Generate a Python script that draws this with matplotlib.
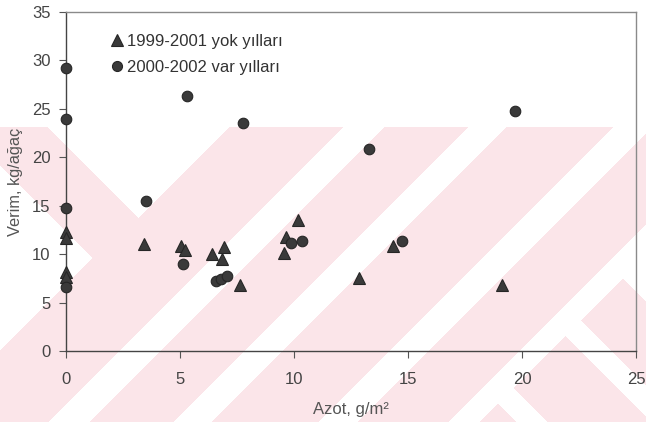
import numpy as np
import matplotlib
matplotlib.use("Agg")
import matplotlib.pyplot as plt

plt.rcParams['font.family'] = ['Liberation Sans', 'DejaVu Sans']

# ---- data ----
tri_label = "1999-2001 yok yılları"
tri_x = [0, 0, 0, 0, 3.42, 5.04, 5.22, 6.4, 6.93, 6.84, 7.63, 9.55, 9.65, 10.19, 12.85, 14.34, 19.14]
tri_y = [12.3, 11.65, 8.2, 7.6, 11.05, 10.85, 10.4, 10.0, 10.7, 9.45, 6.8, 10.15, 11.75, 13.5, 7.55, 10.85, 6.8]

cir_label = "2000-2002 var yılları"
cir_x = [0, 0, 0, 0, 3.51, 5.29, 5.13, 7.78, 6.6, 6.82, 7.05, 9.87, 10.34, 13.29, 14.75, 19.69]
cir_y = [29.24, 24.0, 14.8, 6.64, 15.48, 26.3, 8.98, 23.55, 7.2, 7.45, 7.72, 11.1, 11.38, 20.85, 11.38, 24.77]

x_ticks = [0, 5, 10, 15, 20, 25]
y_ticks = [0, 5, 10, 15, 20, 25, 30, 35]
x_label = "Azot, g/m²"
y_label = "Verim, kg/ağaç"

W, H = 646, 422
fig = plt.figure(figsize=(W / 100, H / 100), dpi=100, facecolor='white')

# ---- scan watermark (decorative background, pixel space) ----
yy, xx = np.mgrid[0:H, 0:W]
u = xx + yy
v = xx - yy
pink = yy >= 127
white = np.zeros_like(pink)
white |= (v > -80) & (u < 356)            # top V opening
white |= (v < -165) & (u < 350)           # left opening
for lo, hi in [(470, 510), (595, 632), (740, 778), (870, 900)]:
    white |= (u >= lo) & (u <= hi)
white |= (v >= 230) & (v <= 260) & (u > 885)
white |= (v >= 95) & (v <= 125) & (u > 885)
white |= (v > 344) & (u > 870)
mask = pink & ~white
img = np.ones((H, W, 3))
img[mask] = np.array([251, 229, 233]) / 255.0
fig.figimage(img, 0, 0, zorder=-1)

ax = fig.add_axes([66 / W, (H - 351) / H, (636 - 66) / W, (351 - 12) / H])
ax.set_facecolor('none')

mk_face = '#3a3a3a'
mk_edge = '#262626'
ax.plot(tri_x, tri_y, linestyle='none', marker='^', markersize=8.5,
        markerfacecolor=mk_face, markeredgecolor=mk_edge, markeredgewidth=0.8,
        label=tri_label, clip_on=False, zorder=3)
ax.plot(cir_x, cir_y, linestyle='none', marker='o', markersize=7.6,
        markerfacecolor=mk_face, markeredgecolor=mk_edge, markeredgewidth=0.8,
        label=cir_label, clip_on=False, zorder=3)

ax.set_xlim(0, 25)
ax.set_ylim(0, 35)
ax.set_xticks(x_ticks)
ax.set_yticks(y_ticks)
ax.tick_params(axis='both', direction='out', length=5, width=0.8, color='#555555',
               labelsize=12, labelcolor='#444444')
ax.tick_params(axis='x', pad=10)
ax.tick_params(axis='y', pad=6)

for s in ['left', 'bottom']:
    ax.spines[s].set_color('#444444')
    ax.spines[s].set_linewidth(1.0)
for s in ['top', 'right']:
    ax.spines[s].set_color('#8a8a8a')
    ax.spines[s].set_linewidth(1.0)

ax.set_xlabel(x_label, fontsize=12, color='#555555', labelpad=11)
ax.set_ylabel(y_label, fontsize=11.8, color='#555555', labelpad=6.5)

leg = ax.legend(loc='upper left', bbox_to_anchor=(0.080, 0.936), frameon=False,
                fontsize=12, handlelength=0.7, handletextpad=0.2,
                labelspacing=0.66, borderpad=0, borderaxespad=0, numpoints=1,
                markerscale=0.95)
for t in leg.get_texts():
    t.set_color('#333333')

fig.savefig('out.png', dpi=100, facecolor='white')
